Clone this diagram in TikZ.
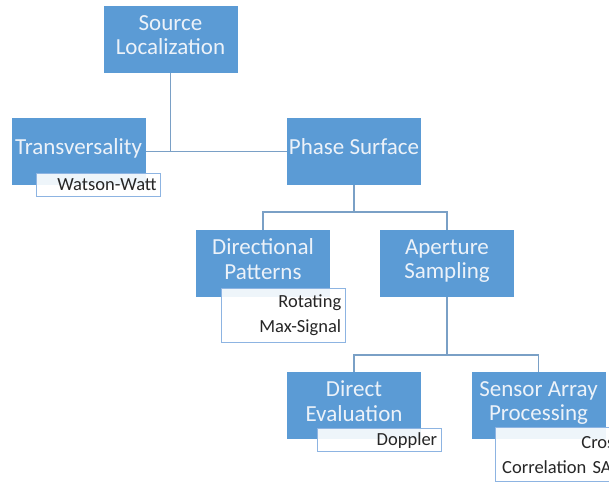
\documentclass[tikz,border=0pt]{standalone}
\usepackage{fontspec}
\setmainfont{Carlito}
\usepackage{tikz}
\usetikzlibrary{positioning,calc}
\definecolor{boxblue}{RGB}{91,155,213}
\definecolor{boxtext}{RGB}{236,242,249}
\definecolor{linkblue}{RGB}{122,160,198}
\definecolor{noteborder}{RGB}{141,180,226}
\definecolor{notetext}{RGB}{38,38,38}

\begin{document}
\begin{tikzpicture}[x=1pt, y=-1pt,
  topic/.style={fill=boxblue, text=boxtext, minimum width=134pt, minimum height=67pt, align=center, font=\fontsize{23}{24.5}\selectfont, text depth=9pt, inner sep=2pt},
  method/.style={draw=noteborder, fill=white, fill opacity=0.9, text opacity=1, text=notetext, anchor=north west, text width=116pt, align=right, font=\fontsize{18.5}{25}\selectfont, inner xsep=4pt, inner ysep=0pt, line width=0.8pt},
  link/.style={draw=linkblue, line width=1.4pt}
]
\useasboundingbox (0,0) rectangle (609,484);
\clip (0,0) rectangle (609,484);

% main topics
\node[topic] (src) at (170.5,39.5) {Source\\Localization};
\node[topic] (trans) at (78.5,151.5) {Transversality};
\node[topic] (phase) at (354,151.5) {Phase Surface};
\node[topic] (dir) at (263,263.5) {Directional\\Patterns};
\node[topic] (aper) at (447,263.5) {Aperture\\Sampling};
\node[topic] (direct) at (354,405.5) {Direct\\Evaluation};
\node[topic] (sensor) at (538.5,405.5) {Sensor Array\\Processing};

\coordinate (bus1) at (354,212);
\coordinate (bus2) at (447,355);

% connectors
\draw[link] (trans.east) -- (phase.west);
\draw[link] (src.south) -- (src.south |- trans.east);
\draw[link] (phase.south) -- (bus1);
\draw[link] (dir.north) |- (bus1) -| (aper.north);
\draw[link] (aper.south) -- (bus2);
\draw[link] (direct.north) |- (bus2) -| (sensor.north);

% methods
\node[method, minimum height=23pt] (watson) at ([xshift=25pt, yshift=12pt]trans.south west) {Watson-Watt};
\node[method, minimum height=54pt] (rotating) at ([xshift=25pt, yshift=9pt]dir.south west) {Rotating\\Max-Signal};
\node[method, minimum height=23pt] (doppler) at ([xshift=30pt, yshift=11pt]direct.south west) {Doppler};
\node[method, minimum height=54pt, text width=122pt] (crosscorr) at ([xshift=24pt, yshift=12pt]sensor.south west) {Cross\\Correlation SAR};
\end{tikzpicture}
\end{document}
